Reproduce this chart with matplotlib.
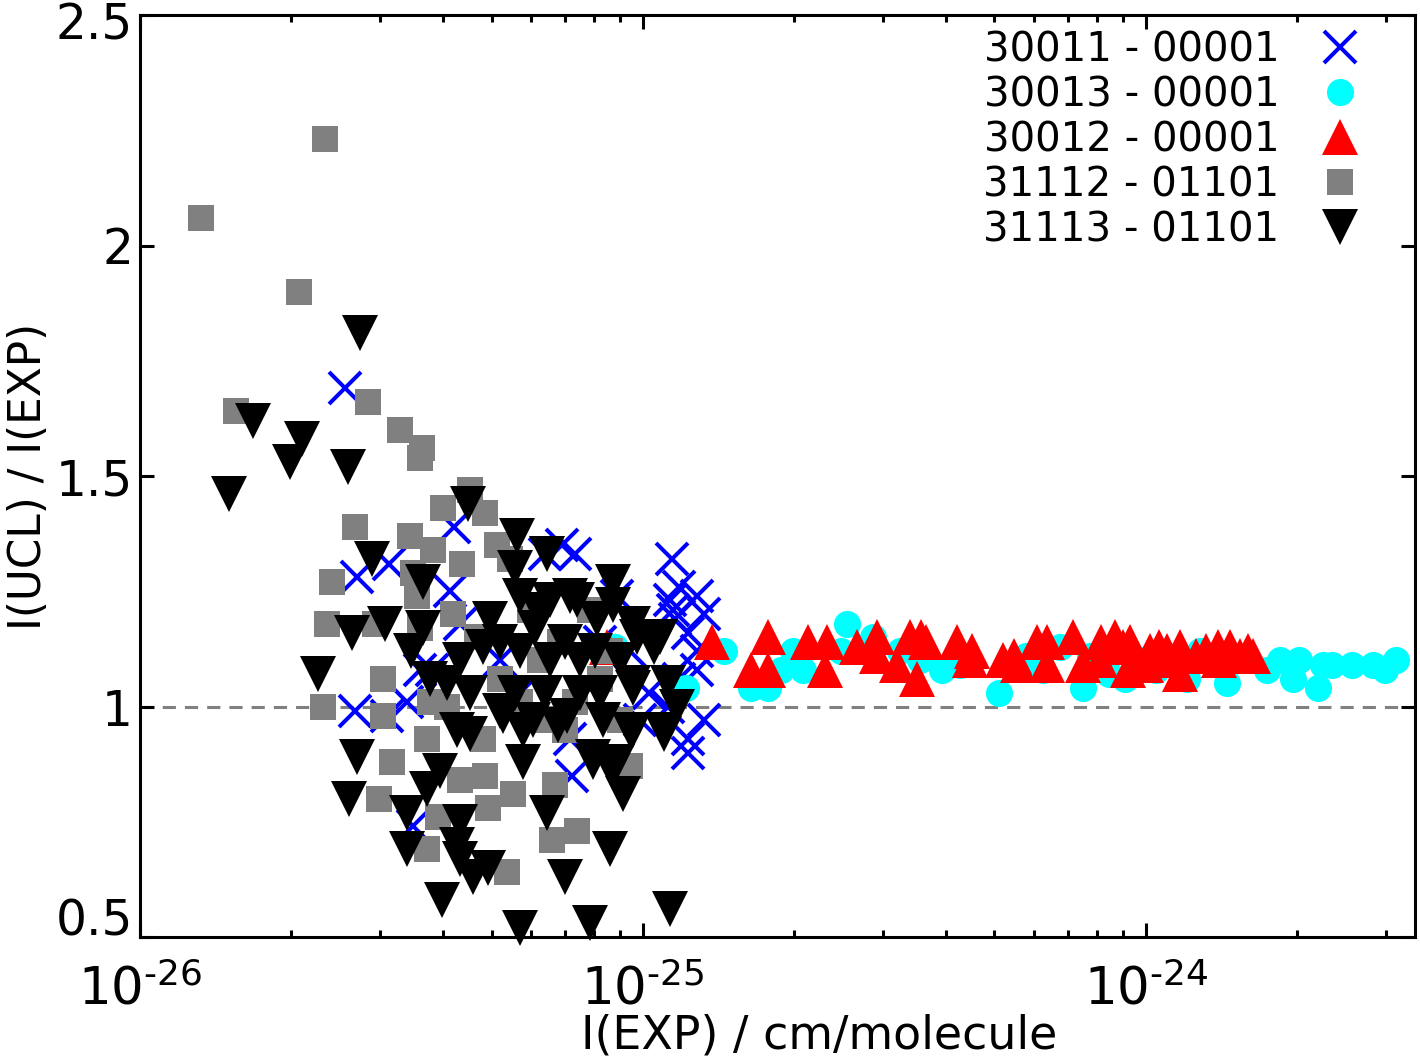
import numpy as np
import matplotlib
matplotlib.use("Agg")
import matplotlib.pyplot as plt
import matplotlib.transforms as mtrans
from matplotlib.ticker import LogLocator, NullLocator, FixedLocator, FixedFormatter

plt.rcParams['font.family'] = ['DejaVu Sans']
plt.rcParams['mathtext.default'] = 'regular'
plt.rcParams['lines.scale_dashes'] = False

labels = ["30011 - 00001", "30013 - 00001", "30012 - 00001",
          "31112 - 01101", "31113 - 01101"]

# 30011 - 00001 (blue crosses)
x_30011 = [2.56e-26, 2.70e-26, 3.13e-26, 4.21e-26, 3.80e-26, 3.60e-26, 4.33e-26, 4.13e-26,
           2.68e-26, 3.10e-26, 3.40e-26, 3.49e-26,
           6.38e-26, 6.90e-26, 7.32e-26,
           1.14e-25, 1.18e-25, 1.28e-25, 1.15e-25, 1.32e-25, 1.23e-25, 1.28e-25, 1.28e-25,
           1.18e-25, 1.23e-25, 1.32e-25,
           7.16e-26, 9.86e-26, 8.87e-26, 7.23e-26, 1.23e-25, 1.12e-25, 1.13e-25, 1.16e-25,
           8.21e-26, 9.42e-26, 1.03e-25, 5.69e-26, 5.19e-26]
y_30011 = [1.69, 1.28, 1.31, 1.39, 1.08, 1.08, 1.18, 1.25,
           0.99, 0.98, 1.01, 0.74,
           1.33, 1.35, 1.33,
           1.32, 1.26, 1.24, 1.21, 1.20, 1.16, 1.12, 1.08,
           1.06, 0.90, 0.97,
           0.93, 0.97, 1.24, 0.85, 0.93, 1.00, 1.23, 1.19,
           1.14, 1.12, 1.03, 1.03, 1.10]

# 30013 - 00001 (cyan circles)
x_30013 = [8.80e-26, 1.22e-25, 1.45e-25, 1.64e-25, 1.77e-25, 1.88e-25, 1.99e-25, 2.08e-25,
           2.48e-25, 2.55e-25, 2.87e-25, 3.55e-25, 3.94e-25, 5.11e-25, 5.79e-25, 6.25e-25,
           7.49e-25, 8.46e-25, 9.08e-25, 1.05e-24, 1.21e-24, 1.45e-24, 1.74e-24, 1.85e-24,
           1.96e-24, 2.02e-24, 2.20e-24, 2.25e-24, 2.35e-24, 2.57e-24, 2.83e-24, 2.99e-24,
           3.15e-24, 6.76e-25, 9.73e-25, 1.28e-24, 1.57e-24, 3.24e-25, 4.27e-25, 7.73e-25]
y_30013 = [1.13, 1.04, 1.12, 1.04, 1.04, 1.08, 1.12, 1.08,
           1.12, 1.18, 1.15, 1.10, 1.08, 1.03, 1.11, 1.08,
           1.04, 1.07, 1.06, 1.08, 1.06, 1.05, 1.08, 1.10,
           1.06, 1.10, 1.04, 1.09, 1.09, 1.09, 1.09, 1.08,
           1.10, 1.13, 1.10, 1.12, 1.10, 1.12, 1.09, 1.11]

# 30012 - 00001 (red triangles)
x_30012 = [8.47e-26, 1.37e-25, 1.77e-25, 1.64e-25, 1.77e-25, 2.13e-25, 2.32e-25, 2.30e-25,
           2.67e-25, 2.92e-25, 2.92e-25, 3.20e-25, 3.40e-25, 3.58e-25, 3.66e-25, 3.51e-25,
           4.21e-25, 4.52e-25, 4.48e-25, 5.20e-25, 5.47e-25, 5.57e-25, 6.08e-25, 6.36e-25,
           7.16e-25, 6.36e-25, 7.49e-25, 8.16e-25, 8.67e-25, 9.00e-25, 9.31e-25, 9.20e-25,
           1.02e-24, 1.06e-24, 1.10e-24, 1.17e-24, 1.17e-24, 1.26e-24, 1.32e-24, 1.39e-24,
           1.47e-24, 1.60e-24, 1.63e-24, 8.09e-25, 1.00e-24, 1.07e-24, 1.40e-24, 1.54e-24]
y_30012 = [1.13, 1.14, 1.15, 1.08, 1.08, 1.14, 1.14, 1.08,
           1.13, 1.15, 1.11, 1.09, 1.15, 1.15, 1.14, 1.06,
           1.14, 1.12, 1.10, 1.10, 1.11, 1.09, 1.14, 1.14,
           1.15, 1.09, 1.09, 1.14, 1.15, 1.13, 1.14, 1.08,
           1.12, 1.13, 1.12, 1.13, 1.07, 1.11, 1.12, 1.13,
           1.13, 1.12, 1.11, 1.10, 1.09, 1.10, 1.10, 1.11]

# 31112 - 01101 (grey squares)
x_31112 = [1.32e-26, 2.33e-26, 2.07e-26, 1.55e-26, 2.84e-26, 3.29e-26, 3.63e-26, 3.60e-26,
           2.68e-26, 2.41e-26, 2.35e-26, 2.93e-26, 2.31e-26, 3.04e-26, 3.04e-26,
           3.44e-26, 3.49e-26, 3.82e-26, 4.00e-26, 4.53e-26, 4.85e-26, 4.37e-26, 5.12e-26,
           3.55e-26, 4.19e-26, 3.60e-26, 4.67e-26, 5.44e-26,
           3.77e-26, 4.08e-26, 3.72e-26, 4.81e-26, 3.17e-26, 2.99e-26, 3.91e-26, 3.72e-26,
           4.33e-26, 4.85e-26, 4.92e-26, 5.51e-26, 5.36e-26, 6.59e-26, 7.39e-26, 6.68e-26,
           9.42e-26,
           5.19e-26, 5.69e-26, 6.24e-26, 6.84e-26, 7.32e-26, 8.21e-26, 8.99e-26, 7.84e-26,
           5.96e-26, 8.59e-26, 6.99e-26, 6.24e-26]
y_31112 = [2.06, 2.23, 1.90, 1.64, 1.66, 1.60, 1.56, 1.54,
           1.39, 1.27, 1.18, 1.18, 1.00, 1.06, 0.98,
           1.37, 1.29, 1.34, 1.43, 1.47, 1.42, 1.31, 1.35,
           1.24, 1.20, 1.17, 1.15, 1.32,
           1.01, 1.00, 0.93, 0.93, 0.88, 0.80, 0.76, 0.69,
           0.84, 0.85, 0.78, 0.81, 0.64, 0.71, 0.73, 0.83,
           0.87,
           1.06, 1.01, 1.10, 1.14, 1.01, 1.06, 0.97, 1.21,
           1.21, 1.12, 0.95, 0.97]

# 31113 - 01101 (black down triangles)
x_31113 = [1.50e-26, 1.68e-26, 1.99e-26, 2.10e-26, 2.59e-26, 2.74e-26,
           2.89e-26, 3.65e-26, 2.64e-26, 3.07e-26, 3.65e-26, 3.46e-26, 2.26e-26, 4.49e-26,
           4.81e-26, 4.08e-26, 4.53e-26, 3.77e-26, 4.33e-26, 5.19e-26, 4.96e-26, 5.69e-26,
           6.10e-26, 6.53e-26, 6.99e-26, 7.49e-26,
           2.70e-26, 2.60e-26, 3.40e-26, 3.40e-26, 3.95e-26, 3.72e-26, 4.27e-26, 4.53e-26,
           4.33e-26, 4.27e-26, 4.33e-26, 4.92e-26, 4.59e-26, 3.98e-26,
           5.27e-26, 5.77e-26, 5.77e-26, 6.44e-26, 8.59e-26, 6.99e-26, 7.84e-26, 5.69e-26,
           1.13e-25, 9.12e-26, 8.67e-26, 7.95e-26,
           5.19e-26, 6.04e-26, 7.06e-26, 8.32e-26, 9.54e-26, 1.10e-25, 1.17e-25, 9.54e-26,
           5.62e-26, 6.44e-26, 5.57e-26, 8.71e-26, 5.69e-26, 7.16e-26, 6.18e-26, 8.71e-26,
           9.54e-26, 1.08e-25, 8.09e-26, 7.39e-26, 6.53e-26,
           9.73e-26, 1.05e-25, 9.54e-26, 1.12e-25, 1.10e-25, 9.42e-26, 7.95e-26, 8.87e-26,
           6.77e-26, 8.21e-26, 7.49e-26, 6.38e-26, 5.57e-26, 8.99e-26, 8.03e-26]
y_31113 = [1.46, 1.62, 1.53, 1.58, 1.52, 1.81,
           1.32, 1.27, 1.16, 1.18, 1.17, 1.12, 1.07, 1.44,
           1.13, 1.05, 1.03, 1.06, 1.10, 1.14, 1.19, 1.12,
           1.17, 1.10, 1.14, 1.10,
           0.89, 0.80, 0.77, 0.69, 0.86, 0.82, 0.95, 0.94,
           0.75, 0.70, 0.67, 0.65, 0.63, 0.58,
           0.98, 0.95, 0.88, 0.77, 0.69, 0.63, 0.53, 0.52,
           0.56, 0.81, 0.86, 0.88,
           0.99, 0.97, 0.98, 0.97, 0.95, 0.95, 1.00, 1.05,
           1.37, 1.33, 1.30, 1.27, 1.24, 1.24, 1.21, 1.22,
           1.18, 1.15, 1.19, 1.23, 1.23,
           1.15, 1.13, 1.04, 1.05, 0.94, 0.95, 0.89, 0.88,
           0.96, 1.03, 1.03, 1.03, 1.03, 1.10, 1.12]

x_ticks = [1e-26, 1e-25, 1e-24]
x_tick_labels = [r'$10^{\text{-}26}$', r'$10^{\text{-}25}$', r'$10^{\text{-}24}$']
y_ticks = [0.5, 1.0, 1.5, 2.0, 2.5]
y_tick_labels = ["0.5", "1", "1.5", "2", "2.5"]

fig = plt.figure(figsize=(14.2, 10.57), dpi=100)
ax = fig.add_axes([140 / 1420, 1 - 937 / 1057, 1275 / 1420, 922 / 1057])
ax.set_xscale('log')

ax.axhline(1.0, color='#808080', lw=2.2, dashes=(9.5, 6.5), zorder=1)

ax.plot(x_30011, y_30011, ls='none', marker='x', ms=23, mew=2.9, color='#0000ff',
        label=labels[0], zorder=2, clip_on=False)
ax.plot(x_30013, y_30013, ls='none', marker='o', ms=19.5, mew=0, color='#00ffff',
        label=labels[1], zorder=3, clip_on=False)
ax.plot(x_30012, y_30012, ls='none', marker='^', ms=26.5, mew=0, color='#ff0000',
        label=labels[2], zorder=4, clip_on=False)
ax.plot(x_31112, y_31112, ls='none', marker='s', ms=18.7, mew=0, color='#808080',
        label=labels[3], zorder=5, clip_on=False)
ax.plot(x_31113, y_31113, ls='none', marker='v', ms=26.5, mew=0, color='#000000',
        label=labels[4], zorder=6, clip_on=False)

ax.set_xlim(1e-26, 3.43e-24)
ax.set_ylim(0.5, 2.5)
ax.yaxis.set_major_locator(FixedLocator(y_ticks))
ax.yaxis.set_major_formatter(FixedFormatter(y_tick_labels))
ax.yaxis.set_minor_locator(NullLocator())
ax.xaxis.set_major_locator(FixedLocator(x_ticks))
ax.xaxis.set_major_formatter(FixedFormatter(x_tick_labels))
ax.xaxis.set_minor_locator(LogLocator(base=10, subs=np.arange(2, 10), numticks=100))

ax.tick_params(which='both', direction='in', top=True, right=True, width=2.2,
               colors='black')
ax.tick_params(which='major', length=10)
ax.tick_params(which='minor', length=5)
ax.tick_params(axis='x', which='major', pad=20, labelsize=37)
ax.tick_params(axis='y', which='major', pad=5, labelsize=35)
for s in ax.spines.values():
    s.set_linewidth(2.2)

ax.set_xlabel('I(EXP) / cm/molecule', fontsize=33)
ax.xaxis.set_label_coords(0.533, -0.083)
ax.set_ylabel('I(UCL) / I(EXP)', fontsize=31.5, labelpad=4)

# lift the lowest y tick label and lower the top one slightly, as in the reference
ticks_y = ax.yaxis.get_major_ticks()
lab05 = ticks_y[0].label1
lab05.set_transform(lab05.get_transform() +
                    mtrans.ScaledTranslation(0, 0.2, fig.dpi_scale_trans))
lab25 = ticks_y[-1].label1
lab25.set_transform(lab25.get_transform() +
                    mtrans.ScaledTranslation(0, -0.05, fig.dpi_scale_trans))

ax.legend(loc='upper right', bbox_to_anchor=(0.9569, 0.9837), markerfirst=False,
          frameon=False, fontsize=29, handlelength=1.0, handletextpad=1.0,
          labelspacing=0.125, borderpad=0.0, borderaxespad=0.0, numpoints=1)

fig.savefig('out.png', dpi=100)
